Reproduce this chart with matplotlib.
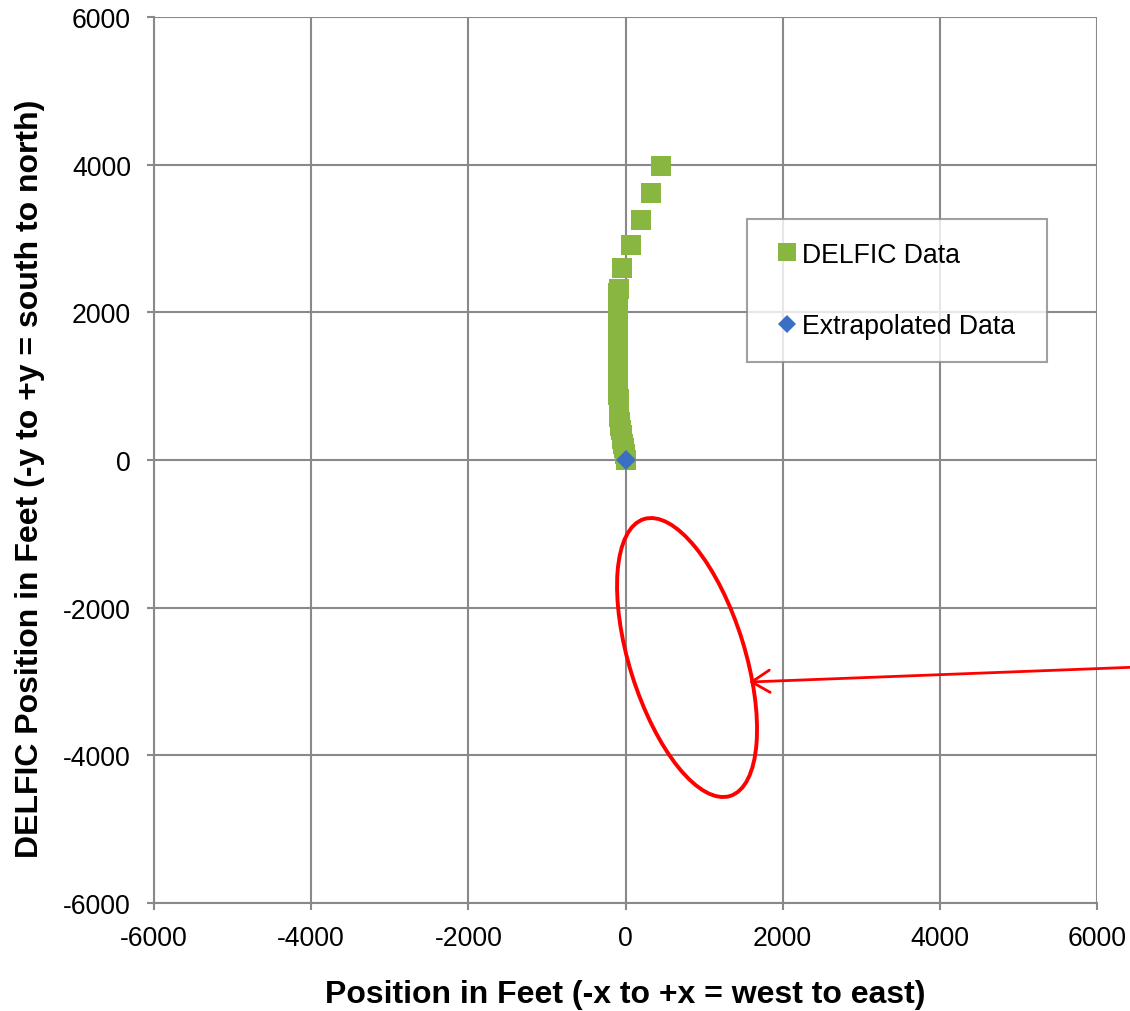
import matplotlib.pyplot as plt
from matplotlib.patches import Ellipse
from matplotlib.transforms import Affine2D

# DELFIC cloud positions in feet (east, north)
delfic_x = [454, 322, 191, 68, -51,
            -89, -90, -90, -91, -91, -92, -92, -92, -92, -92,
            -92, -92, -92, -92, -92, -92, -92, -92, -92, -92,
            -92, -91, -91, -90, -90, -89, -88, -86, -83, -79,
            -74, -67, -59, -50, -40, -29, -18, -7, 8]
delfic_y = [3984, 3614, 3256, 2917, 2602,
            2317, 2260, 2200, 2140, 2080, 2020, 1960, 1900, 1840, 1780,
            1720, 1660, 1600, 1540, 1480, 1420, 1360, 1300, 1240, 1180,
            1120, 1060, 1000, 940, 880, 820, 760, 700, 640, 580,
            520, 460, 400, 340, 280, 220, 160, 80, 0]

extrap_x = [0]
extrap_y = [0]

ticks = [-6000, -4000, -2000, 0, 2000, 4000, 6000]

GREEN = '#89B541'
BLUE = '#3B6FC3'
GRID = '#898989'

plt.rcParams['font.family'] = ['Liberation Sans', 'DejaVu Sans']

fig = plt.figure(figsize=(11.3, 10.12), dpi=100)
ax = fig.add_axes([0.1363, 0.1067, 0.8345, 0.8755])

ax.plot(delfic_x, delfic_y, 's', color=GREEN, markersize=14.4,
        markeredgewidth=0, label='DELFIC Data', zorder=3)
ax.plot(extrap_x, extrap_y, 'D', color=BLUE, markersize=10.5,
        markeredgewidth=0, label='Extrapolated Data', zorder=4)

ax.set_xlim(-6000, 6000)
ax.set_ylim(-6000, 6000)
ax.set_xticks(ticks)
ax.set_yticks(ticks)
ax.set_xticklabels([str(t) for t in ticks])
ax.set_yticklabels([str(t) for t in ticks])

ax.grid(True, color=GRID, linewidth=1.5)
ax.set_axisbelow(True)
for side in ['top', 'right']:
    ax.spines[side].set_visible(False)
for side in ['left', 'bottom']:
    ax.spines[side].set_color(GRID)
    ax.spines[side].set_linewidth(1.5)

ax.tick_params(axis='both', direction='out', length=5, width=1.5,
               color=GRID, labelsize=19.2, labelcolor='black')
ax.tick_params(axis='x', pad=11)
ax.tick_params(axis='y', pad=11.5)

ax.set_xlabel('Position in Feet (-x to +x = west to east)',
              fontsize=23, fontweight='bold', va='center', ha='center')
ax.set_ylabel('DELFIC Position in Feet (-y to +y = south to north)',
              fontsize=23, fontweight='bold', va='center', ha='center')
ax.xaxis.set_label_coords(0.5, -0.1027)
ax.yaxis.set_label_coords(-0.1315, 0.48)

leg = ax.legend(loc='upper left', bbox_to_anchor=(0.629, 0.612, 0.318, 0.16),
                mode='expand', fontsize=19.2, frameon=True, fancybox=False,
                borderpad=0.85, labelspacing=1.7, handlelength=1.3,
                handletextpad=-0.08, markerscale=0.9, borderaxespad=0)
leg.get_frame().set_edgecolor(GRID)
leg.get_frame().set_linewidth(1.5)

# red ellipse drawn in (nearly) screen-square units, corrected for axis aspect
ell = Ellipse((0, 0), width=2 * 1845, height=2 * 735, angle=107.3,
              fill=False, edgecolor='#FF0000', linewidth=2.8,
              transform=Affine2D().scale(1, 13.544 / 12.725).translate(783, -2675) + ax.transData,
              zorder=5)
ax.add_patch(ell)

ax.annotate('', xy=(1572, -3007), xycoords='data',
            xytext=(1.01, 0.340), textcoords='figure fraction',
            arrowprops=dict(arrowstyle='->,head_length=13,head_width=8',
                            mutation_scale=1, color='#FF0000', linewidth=2.0,
                            shrinkA=0, shrinkB=0),
            annotation_clip=False, zorder=6)

fig.savefig('out.png', dpi=100)
